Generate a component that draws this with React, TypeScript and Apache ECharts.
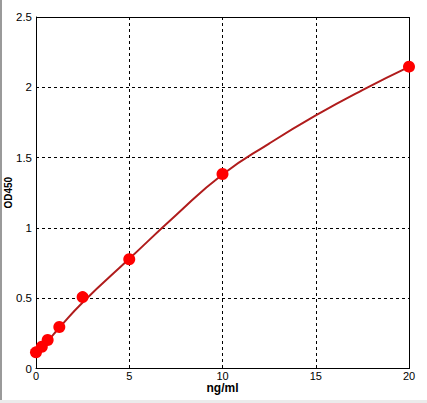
import React, { useEffect, useRef } from "react";
import * as echarts from "echarts";

// standards (markers)
const concentrations = [0, 0.3125, 0.625, 1.25, 2.5, 5, 10, 20];
const odValues = [0.115, 0.155, 0.203, 0.295, 0.508, 0.777, 1.383, 2.147];
// fitted curve
const curveX = [0, 0.3125, 0.625, 1.25, 2.5, 5, 7.5, 10, 12.5, 15, 17.5, 20];
const curveY = [0.11, 0.15, 0.195, 0.29, 0.47, 0.78, 1.09, 1.38, 1.6, 1.8, 1.98, 2.145];
const xTicks = { min: 0, max: 20, interval: 5 };
const yTicks = { min: 0, max: 2.5, interval: 0.5 };
const xName = "ng/ml";
const yName = "OD450";

export default function App() {
  const ref = useRef<HTMLDivElement>(null);
  useEffect(() => {
    if (!ref.current) return;
    const chart = echarts.init(ref.current, null, { renderer: "svg" });
    const pts = concentrations.map((c, i) => [c, odValues[i]]);
    const curve = curveX.map((c, i) => [c, curveY[i]]);
    const font = "'Liberation Sans', Arial, sans-serif";
    const fmt = (v: number) => String(v);
    chart.setOption({
      animation: false,
      backgroundColor: "#ffffff",
      grid: { left: 36, right: 18, top: 17, bottom: 34.5, show: false, outerBoundsMode: "none", containLabel: false },
      xAxis: {
        type: "value",
        min: xTicks.min,
        max: xTicks.max,
        interval: xTicks.interval,
        name: xName,
        nameLocation: "middle",
        nameGap: 13,
        nameMoveOverlap: false,
        nameTextStyle: { fontFamily: font, fontSize: 12, fontWeight: "bold", color: "#000" },
        axisLine: { show: true, onZero: false, lineStyle: { color: "#000", width: 1 } },
        axisTick: { show: false },
        axisLabel: { fontFamily: font, fontSize: 11, color: "#000", margin: 2, formatter: fmt },
        splitLine: { show: true, lineStyle: { color: "#000", type: [3, 3], width: 1 } },
      },
      yAxis: {
        type: "value",
        min: yTicks.min,
        max: yTicks.max,
        interval: yTicks.interval,
        name: yName,
        nameLocation: "middle",
        nameGap: 23,
        nameMoveOverlap: false,
        nameTextStyle: { fontFamily: font, fontSize: 10, fontWeight: "bold", color: "#000" },
        axisLine: { show: true, onZero: false, lineStyle: { color: "#000", width: 1 } },
        axisTick: { show: false },
        axisLabel: { fontFamily: font, fontSize: 11.5, color: "#000", margin: 4, formatter: fmt },
        splitLine: { show: true, lineStyle: { color: "#000", type: [3, 3], width: 1 } },
      },
      graphic: [
        { type: "rect", left: 0, top: 0, shape: { width: 2, height: 403 }, style: { fill: "#9a9a9a" }, silent: true },
        { type: "rect", left: 0, top: 400, shape: { width: 427, height: 3 }, style: { fill: "#ebebeb" }, silent: true },
        { type: "rect", left: 409, top: 17, shape: { width: 1, height: 352 }, style: { fill: "#000" }, silent: true },
        { type: "rect", left: 36, top: 17, shape: { width: 374, height: 1 }, style: { fill: "#000" }, silent: true },
      ],
      series: [
        {
          type: "line",
          data: curve,
          smooth: 0.5,
          showSymbol: false,
          lineStyle: { color: "#b01c1c", width: 2 },
          z: 2,
        },
        {
          type: "scatter",
          data: pts,
          symbol: "circle",
          symbolSize: 12,
          itemStyle: { color: "#ff0000", opacity: 1 },
          z: 3,
        },
      ],
    });
    return () => chart.dispose();
  }, []);
  return (
    <div
      ref={ref}
      style={{ position: "absolute", left: 0, top: 0, width: 427, height: 403 }}
    />
  );
}
